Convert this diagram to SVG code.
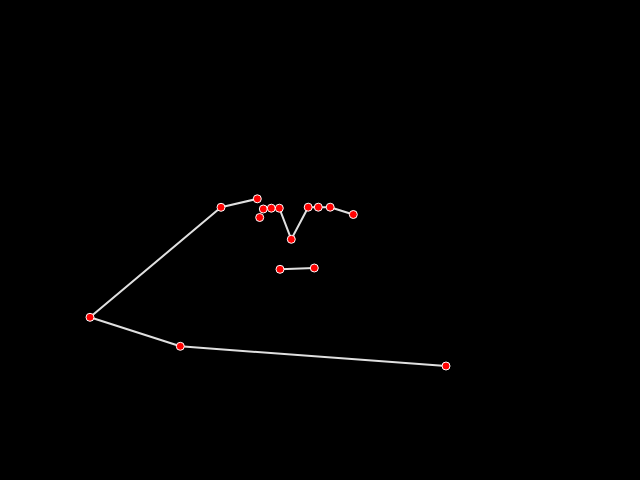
<svg xmlns="http://www.w3.org/2000/svg" width="640" height="480" viewBox="0 0 640 480">
<style>
.e{stroke:#e0e0e0;stroke-width:2;fill:none;stroke-linecap:round;stroke-linejoin:round}
.n{fill:#ff0000;stroke:#ffffff;stroke-width:1}
</style>
<rect width="640" height="480" fill="#000"/>
<g id="connectors">
<polyline class="e" points="446,366 180.3,346.3 90,317.3 221,207.3 257.3,198.8"/>
<polyline class="e" points="263.3,209 271.3,208.2 279.3,208.2 291.3,239.3 308.2,207.2 318.3,207.2 330.2,207.2 353.3,214.5"/>
<polyline class="e" points="280,269.3 314.3,268"/>
</g>
<g id="n1"><circle class="n" cx="446" cy="366" r="4"/></g>
<g id="n2"><circle class="n" cx="180.3" cy="346.3" r="4"/></g>
<g id="n3"><circle class="n" cx="90" cy="317.3" r="4"/></g>
<g id="n4"><circle class="n" cx="221" cy="207.3" r="4"/></g>
<g id="n5"><circle class="n" cx="257.3" cy="198.8" r="4"/></g>
<g id="n6"><circle class="n" cx="259.7" cy="217.5" r="4"/></g>
<g id="n7"><circle class="n" cx="263.3" cy="209" r="4"/></g>
<g id="n8"><circle class="n" cx="271.3" cy="208.2" r="4"/></g>
<g id="n9"><circle class="n" cx="279.3" cy="208.2" r="4"/></g>
<g id="n10"><circle class="n" cx="291.3" cy="239.3" r="4"/></g>
<g id="n11"><circle class="n" cx="308.2" cy="207.2" r="4"/></g>
<g id="n12"><circle class="n" cx="318.3" cy="207.2" r="4"/></g>
<g id="n13"><circle class="n" cx="330.2" cy="207.2" r="4"/></g>
<g id="n14"><circle class="n" cx="353.3" cy="214.5" r="4"/></g>
<g id="n15"><circle class="n" cx="280" cy="269.3" r="4"/></g>
<g id="n16"><circle class="n" cx="314.3" cy="268" r="4"/></g>
</svg>
